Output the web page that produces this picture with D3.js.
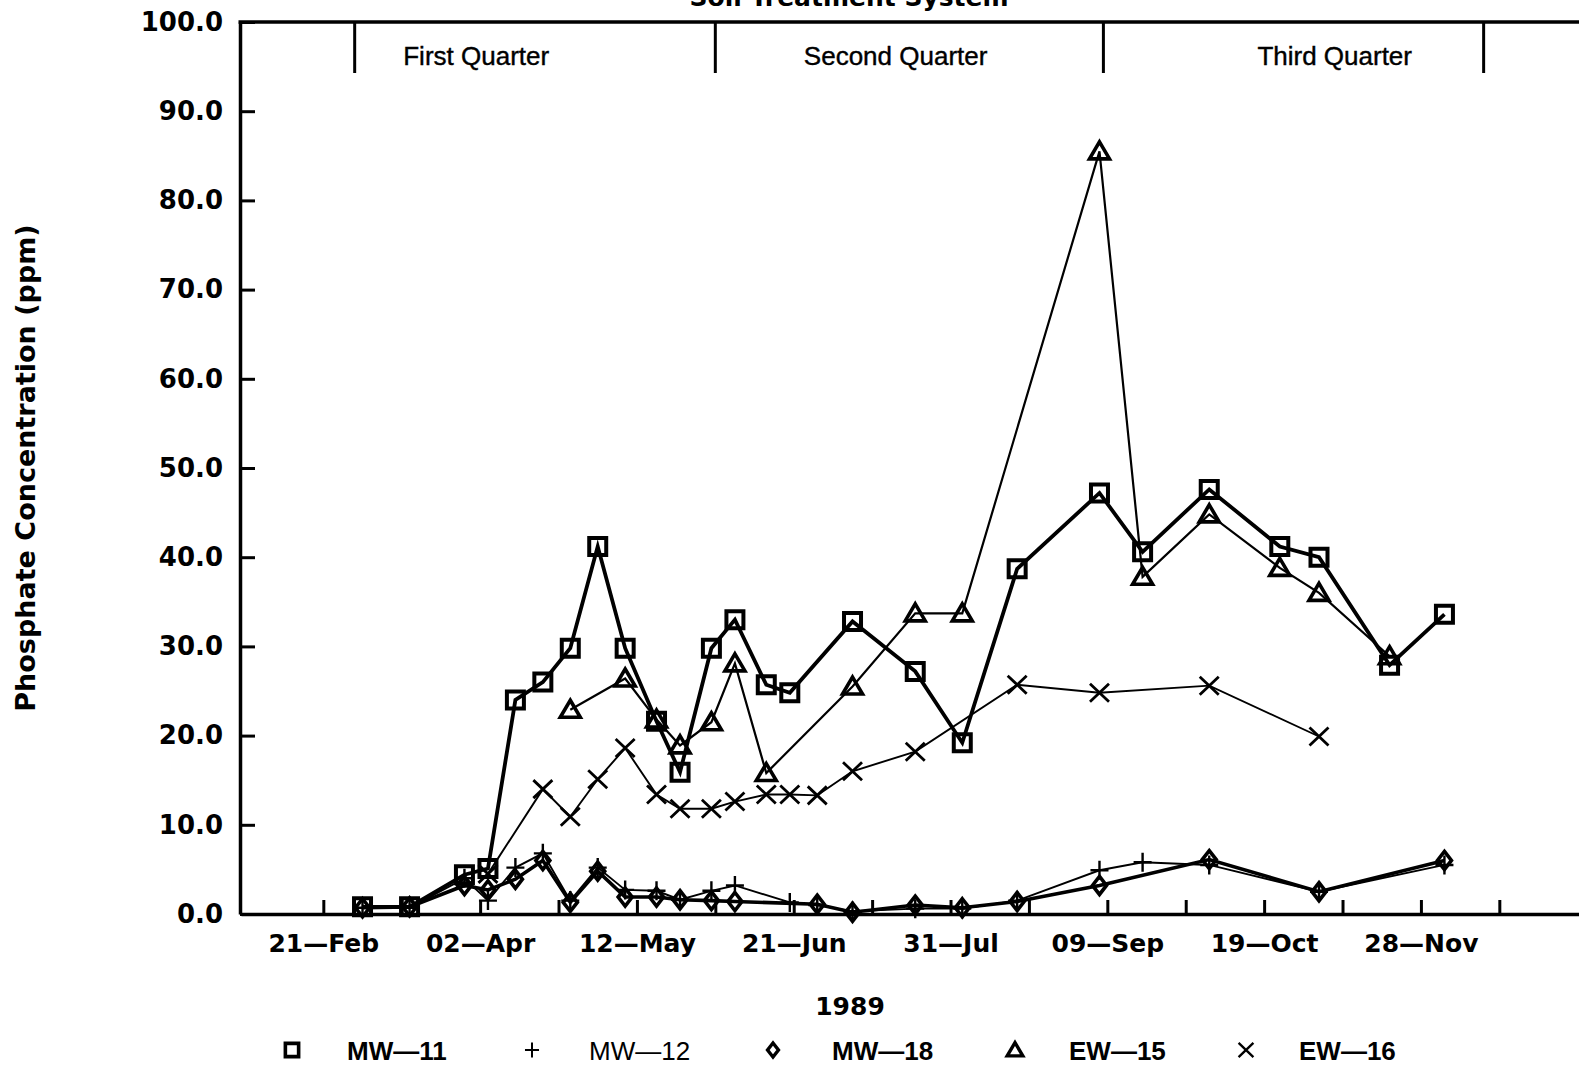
<!DOCTYPE html>
<html>
<head>
<meta charset="utf-8">
<script src="https://cdn.jsdelivr.net/npm/d3@7"></script>
<style>
  html, body { margin: 0; padding: 0; background: #fff; }
  svg { display: block; }
</style>
</head>
<body>
<svg id="chart" width="1579" height="1065"></svg>
<script>
// Sampling dates (1989) shared by all wells
const sampleDates = [
  "1989-03-03", "1989-03-15", "1989-03-29", "1989-04-04", "1989-04-11",
  "1989-04-18", "1989-04-25", "1989-05-02", "1989-05-09", "1989-05-17",
  "1989-05-23", "1989-05-31", "1989-06-06", "1989-06-14", "1989-06-20",
  "1989-06-27", "1989-07-06", "1989-07-22", "1989-08-03", "1989-08-17",
  "1989-09-07", "1989-09-18", "1989-10-05", "1989-10-23", "1989-11-02",
  "1989-11-20", "1989-12-04"
];

// Phosphate concentration (ppm) per well; null = not sampled
const mw11 = [0.8, 0.8, 4.4, 5.1, 24.0, 26.0, 29.8, 41.2, 29.8, 21.6, 15.9, 29.8, 33.0, 25.7, 24.8, null,
              32.8, 27.2, 19.2, 38.7, 47.2, 40.6, 47.6, 41.2, 40.0, 27.9, 33.6];
const mw12 = [0.7, 0.7, 4.0, 1.5, 5.2, 6.8, 1.5, 5.2, 2.7, 2.6, 1.6, 2.6, 3.2, null, 1.3, 1.0,
              0.3, 0.6, 0.6, 1.5, 4.9, 5.8, 5.5, null, 2.5, null, 5.5];
const mw18 = [0.7, 0.8, 3.2, 2.7, 3.9, 6.0, 1.3, 4.8, 1.9, 1.9, 1.6, 1.5, 1.4, null, null, 1.1,
              0.2, 1.0, 0.7, 1.4, 3.2, null, 6.1, null, 2.5, null, 6.0];
const ew15 = [null, null, null, null, null, null, 22.9, null, 26.4, 21.8, 18.9, 21.5, 28.1, 15.8, null, null,
              25.5, 33.7, 33.7, null, 85.5, 37.8, 44.8, 38.8, 36.0, 28.9, null];
const ew16 = [null, null, null, 4.5, null, 14.0, 10.9, 15.1, 18.6, 13.4, 11.8, 11.8, 12.6, 13.4, 13.4, 13.3,
              16.0, 18.2, null, 25.7, 24.8, null, 25.6, null, 19.9, null, null];

const seriesNames = ["MW\u201411", "MW\u201412", "MW\u201418", "EW\u201415", "EW\u201416"];

// Reporting quarters (boundary dates) and their labels
const quarterBounds = ["1989-03-01", "1989-06-01", "1989-09-08", "1989-12-14"];
const quarterLabels = ["First Quarter", "Second Quarter", "Third Quarter"];
const quarterLabelDates = ["1989-04-01", "1989-07-17", "1989-11-06"];

const yTickValues = [0, 10, 20, 30, 40, 50, 60, 70, 80, 90, 100];
const chartTitle = "Soil Treatment System";
const yTitle = "Phosphate Concentration (ppm)";
const xTitle = "1989";

// ---------------------------------------------------------------
const parse = d3.utcParse("%Y-%m-%d");
const dates = sampleDates.map(parse);

const svg = d3.select("#chart");
svg.append("rect").attr("width", 1579).attr("height", 1065).attr("fill", "#fff");

const plotLeft = 240, plotTop = 22, plotBottom = 914;
const x = d3.scaleUtc()
  .domain([Date.UTC(1989, 0, 31), Date.UTC(1990, 0, 8)])
  .range([241, 241 + 342 * 3.92]);
const y = d3.scaleLinear().domain([0, 100]).range([plotBottom, plotTop]);

const boldFont = "'DejaVu Sans', sans-serif";
const plainFont = "'Liberation Sans', Arial, sans-serif";

// Title (runs off the top edge of the page)
svg.append("text")
  .attr("x", 849).attr("y", 6)
  .attr("text-anchor", "middle")
  .attr("font-family", boldFont).attr("font-weight", "bold").attr("font-size", 25)
  .text(chartTitle);

// Y axis
const yAxis = d3.axisLeft(y)
  .tickValues(yTickValues)
  .tickSizeInner(-15).tickSizeOuter(0).tickPadding(17)
  .tickFormat(d3.format(".1f"));
const gy = svg.append("g").attr("transform", `translate(${plotLeft},0)`).call(yAxis);
gy.select(".domain").attr("stroke", "#000").attr("stroke-width", 3.5);
gy.selectAll(".tick line").attr("stroke", "#000").attr("stroke-width", 3);
gy.selectAll(".tick text")
  .attr("font-family", boldFont).attr("font-weight", "bold").attr("font-size", 26)
  .attr("fill", "#000");

// X axis: ticks every 20 days, labels every 40 days
const tickDates = d3.range(0, 16).map(k => d3.utcDay.offset(new Date(Date.UTC(1989, 1, 21)), 20 * k));
const fmt = d3.utcFormat("%d");
const fmtM = d3.utcFormat("%b");
const xAxis = d3.axisBottom(x)
  .tickValues(tickDates)
  .tickSizeInner(-14).tickSizeOuter(0).tickPadding(20)
  .tickFormat((d, i) => i % 2 === 0 ? fmt(d) + "\u2014" + fmtM(d) : "");
const gx = svg.append("g").attr("transform", `translate(0,${plotBottom})`).call(xAxis);
gx.select(".domain").attr("stroke", "#000").attr("stroke-width", 3.5);
gx.selectAll(".tick line").attr("stroke", "#000").attr("stroke-width", 3);
gx.selectAll(".tick text")
  .attr("font-family", boldFont).attr("font-weight", "bold").attr("font-size", 25)
  .attr("fill", "#000");

// Top frame line
svg.append("line")
  .attr("x1", plotLeft - 1.5).attr("x2", 1579).attr("y1", plotTop).attr("y2", plotTop)
  .attr("stroke", "#000").attr("stroke-width", 3.5);

// Quarter dividers and labels
svg.selectAll(".qdiv").data(quarterBounds.map(parse)).join("line")
  .attr("class", "qdiv")
  .attr("x1", d => x(d)).attr("x2", d => x(d))
  .attr("y1", plotTop).attr("y2", 73)
  .attr("stroke", "#000").attr("stroke-width", 3);
svg.selectAll(".qlab").data(quarterLabels).join("text")
  .attr("class", "qlab")
  .attr("x", (d, i) => x(parse(quarterLabelDates[i])))
  .attr("y", 64.5)
  .attr("text-anchor", "middle")
  .attr("font-family", plainFont).attr("font-size", 26)
  .attr("stroke", "#000").attr("stroke-width", 0.4)
  .text(d => d);

// Axis titles
svg.append("text")
  .attr("transform", "translate(25,468) rotate(-90)")
  .attr("text-anchor", "middle").attr("dominant-baseline", "central")
  .attr("font-family", boldFont).attr("font-weight", "bold").attr("font-size", 27)
  .text(yTitle);
svg.append("text")
  .attr("x", 850).attr("y", 1015)
  .attr("text-anchor", "middle")
  .attr("font-family", boldFont).attr("font-weight", "bold").attr("font-size", 25)
  .text(xTitle);

// Marker shapes
const shapes = {
  square: s => `M${-8.5 * s},${-8.5 * s}H${8.5 * s}V${8.5 * s}H${-8.5 * s}Z`,
  plus: s => `M${-9 * s},0H${9 * s}M0,${-9.5 * s}V${9.5 * s}`,
  diamond: s => `M0,${-9 * s}L${7 * s},0L0,${9 * s}L${-7 * s},0Z`,
  triangle: s => `M0,${-9.5 * s}L${10 * s},${7.5 * s}L${-10 * s},${7.5 * s}Z`,
  times: s => `M${-9.5 * s},${-9 * s}L${9.5 * s},${9 * s}M${-9.5 * s},${9 * s}L${9.5 * s},${-9 * s}`
};

const series = [
  { name: seriesNames[4], values: ew16, shape: "times",    lw: 1.9, mw: 2.8 },
  { name: seriesNames[3], values: ew15, shape: "triangle", lw: 2.2, mw: 3.6 },
  { name: seriesNames[1], values: mw12, shape: "plus",     lw: 1.9, mw: 2.4 },
  { name: seriesNames[2], values: mw18, shape: "diamond",  lw: 3.6, mw: 3.6 },
  { name: seriesNames[0], values: mw11, shape: "square",   lw: 3.8, mw: 4 }
];

const line = d3.line().x(d => x(d.date)).y(d => y(d.value));

series.forEach(s => {
  const pts = dates.map((d, i) => ({ date: d, value: s.values[i] })).filter(p => p.value != null);
  const g = svg.append("g");
  g.append("path").datum(pts)
    .attr("d", line)
    .attr("fill", "none").attr("stroke", "#000")
    .attr("stroke-width", s.lw).attr("stroke-linejoin", "miter");
  g.selectAll("path.mk").data(pts).join("path")
    .attr("class", "mk")
    .attr("transform", d => `translate(${x(d.date)},${y(d.value)})`)
    .attr("d", shapes[s.shape](1))
    .attr("fill", "none").attr("stroke", "#000").attr("stroke-width", s.mw);
});

// Legend
const legendOrder = [
  { name: seriesNames[0], shape: "square",   mw: 3.6, bold: true,  mx: 292,  tx: 347 },
  { name: seriesNames[1], shape: "plus",     mw: 2.0, bold: false, mx: 532,  tx: 589 },
  { name: seriesNames[2], shape: "diamond",  mw: 3.4, bold: true,  mx: 773,  tx: 832 },
  { name: seriesNames[3], shape: "triangle", mw: 3.4, bold: true,  mx: 1015, tx: 1069 },
  { name: seriesNames[4], shape: "times",    mw: 2.4, bold: true,  mx: 1246, tx: 1299 }
];
const lg = svg.append("g");
legendOrder.forEach(l => {
  lg.append("path")
    .attr("transform", `translate(${l.mx},1050)`)
    .attr("d", shapes[l.shape](0.78))
    .attr("fill", "none").attr("stroke", "#000").attr("stroke-width", l.mw);
  lg.append("text")
    .attr("x", l.tx).attr("y", 1060)
    .attr("font-family", plainFont)
    .attr("font-weight", l.bold ? "bold" : "normal")
    .attr("font-size", 26)
    .text(l.name);
});
</script>
</body>
</html>
